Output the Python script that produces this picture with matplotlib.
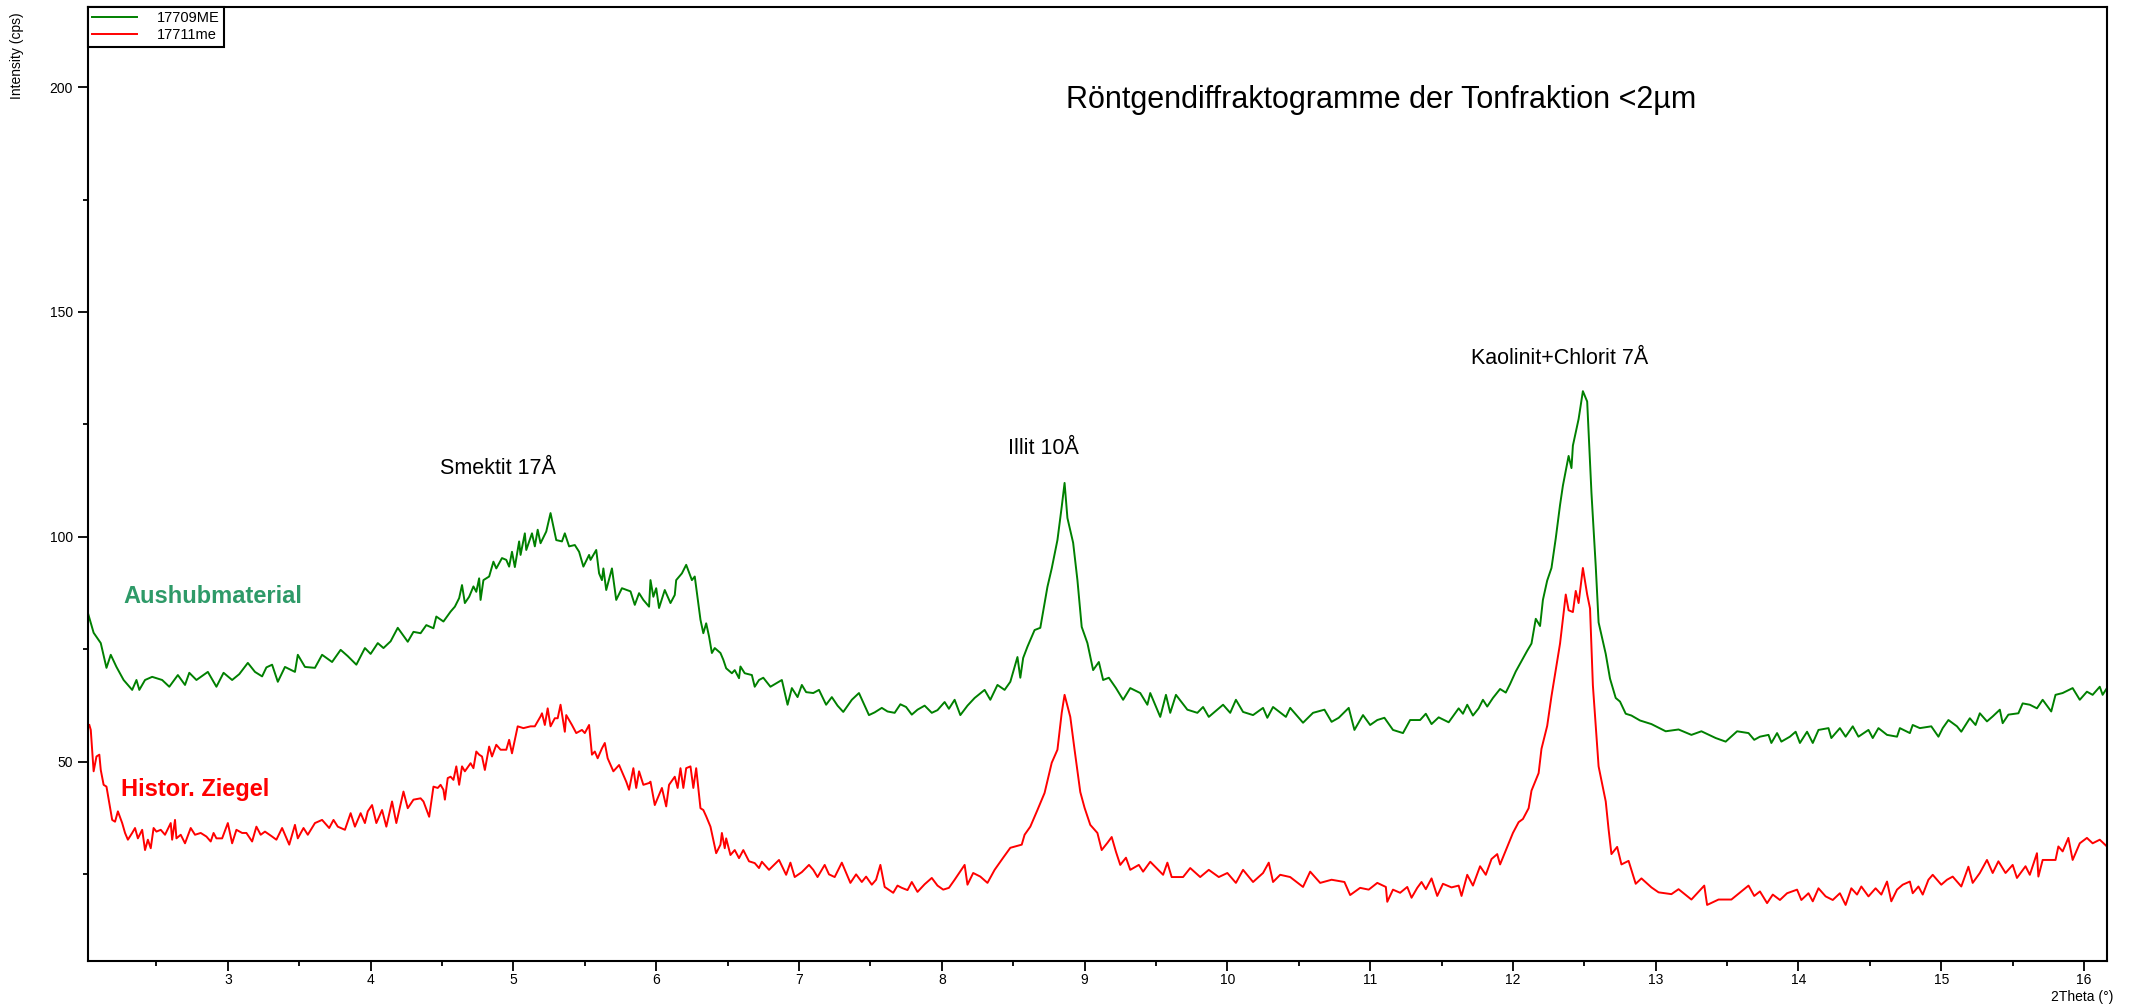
import matplotlib
matplotlib.use("Agg")
import matplotlib.pyplot as plt
from matplotlib.ticker import MultipleLocator

plt.rcParams['font.family'] = ['Liberation Sans', 'DejaVu Sans']

tt_green = [
    2.02, 2.06, 2.11, 2.15, 2.18, 2.22, 2.27, 2.33, 2.36, 2.38, 2.42, 2.47, 2.54, 2.59, 2.65,
    2.70, 2.73, 2.78, 2.86, 2.92, 2.97, 3.03, 3.08, 3.14, 3.19, 3.24, 3.27, 3.31, 3.35, 3.40,
    3.47, 3.49, 3.54, 3.61, 3.66, 3.73, 3.79, 3.84, 3.90, 3.96, 4.00, 4.05, 4.09, 4.14, 4.19,
    4.26, 4.30,
    4.35, 4.39, 4.44, 4.46, 4.51, 4.56, 4.59, 4.62, 4.64, 4.66, 4.69, 4.72, 4.74, 4.76, 4.77,
    4.79, 4.83, 4.86, 4.88, 4.92, 4.95, 4.97, 4.99, 5.01, 5.04, 5.05, 5.08, 5.09, 5.13, 5.15,
    5.17, 5.19, 5.23, 5.26, 5.30, 5.34, 5.36, 5.39, 5.43, 5.46, 5.49, 5.53, 5.54, 5.58, 5.60,
    5.62, 5.63, 5.65, 5.69, 5.72, 5.76, 5.82, 5.85, 5.88, 5.91, 5.95, 5.96, 5.98, 6.00, 6.02,
    6.06, 6.10, 6.13, 6.14, 6.18, 6.21, 6.25, 6.27, 6.31, 6.33, 6.35, 6.37, 6.39, 6.41, 6.45,
    6.47, 6.49, 6.53, 6.55, 6.58, 6.59, 6.62, 6.67, 6.69, 6.72,
    6.75, 6.80, 6.88, 6.92, 6.95, 6.99, 7.02, 7.05, 7.10, 7.14, 7.19, 7.23, 7.27, 7.31, 7.37,
    7.42, 7.46, 7.49, 7.53, 7.58, 7.62, 7.67, 7.71, 7.75, 7.79, 7.83, 7.88, 7.93, 7.97, 8.02,
    8.05, 8.09, 8.13, 8.18, 8.23, 8.30, 8.34, 8.39, 8.44, 8.48, 8.53, 8.55, 8.57, 8.60, 8.65,
    8.69, 8.74, 8.77, 8.81, 8.84, 8.86, 8.88, 8.92, 8.95, 8.98, 9.02,
    9.06, 9.10, 9.13, 9.17, 9.22, 9.27, 9.32, 9.39, 9.44, 9.46, 9.53, 9.57, 9.60, 9.64, 9.72,
    9.79, 9.83, 9.87, 9.97, 10.02, 10.06, 10.11, 10.18, 10.25, 10.28, 10.32, 10.41, 10.44,
    10.53, 10.60, 10.68, 10.73, 10.78, 10.85, 10.89, 10.95, 11.00, 11.05, 11.10, 11.16, 11.23,
    11.28, 11.35,
    11.39, 11.43, 11.48, 11.55, 11.62, 11.65, 11.68, 11.72, 11.76, 11.79, 11.82, 11.86, 11.91,
    11.95, 11.98, 12.02, 12.06, 12.10, 12.13, 12.16, 12.19, 12.21, 12.24, 12.27, 12.30, 12.33,
    12.35, 12.39, 12.41, 12.42, 12.46, 12.49, 12.52, 12.55, 12.58, 12.60, 12.65, 12.68, 12.72,
    12.75, 12.79, 12.83, 12.89, 12.97, 13.07, 13.16, 13.25, 13.32, 13.42, 13.49, 13.57, 13.65,
    13.69,
    13.73, 13.79, 13.81, 13.85, 13.88, 13.94, 13.98, 14.01, 14.06, 14.10, 14.14, 14.21, 14.23,
    14.29, 14.33, 14.38, 14.42, 14.49, 14.52, 14.56, 14.62, 14.69, 14.71, 14.78, 14.80, 14.85,
    14.93, 14.98, 15.01, 15.05, 15.11, 15.14, 15.20, 15.24, 15.27, 15.32, 15.36, 15.41, 15.43,
    15.47, 15.54, 15.57, 15.62, 15.67, 15.71, 15.77, 15.80, 15.85, 15.92, 15.97, 16.02, 16.06,
    16.11, 16.13, 16.16,
]
int_green = [
    83.1, 78.7, 76.4, 70.9, 73.8, 71.1, 68.2, 66.0, 68.2, 66.0, 68.2, 68.9, 68.2, 66.7, 69.3,
    67.1, 69.8, 68.2, 70.0, 66.7, 69.8, 68.2, 69.5, 72.0, 70.0, 69.0, 71.0, 71.6, 67.8, 71.1,
    70.0, 73.8, 71.1, 70.9, 73.8, 72.2, 74.9, 73.5, 71.6, 75.3, 74.0, 76.4, 75.3, 76.8, 79.8,
    76.7, 78.9,
    78.6, 80.4, 79.7, 82.3, 81.2, 83.4, 84.5, 86.4, 89.3, 85.3, 86.7, 89.0, 87.8, 90.8, 86.0,
    90.4, 91.2, 94.5, 93.0, 95.3, 94.9, 93.4, 96.7, 93.3, 99.0, 96.0, 100.8, 97.1, 100.8, 97.9,
    101.6, 98.6, 101.2, 105.3, 99.3, 99.0, 100.8, 97.9, 98.2, 96.7, 93.4, 96.0, 94.9, 97.1, 91.9,
    90.4, 93.0, 88.2, 93.0, 86.0, 88.6, 87.9, 84.9, 87.5, 86.0, 84.5, 90.4, 86.7, 88.6, 84.2,
    88.2, 85.3, 87.1, 90.4, 91.9, 93.8, 90.4, 91.2, 81.6, 78.6, 80.8, 77.9, 74.2, 75.3, 74.2,
    72.7, 70.8, 69.7, 70.4, 68.6, 71.2, 69.7, 69.3, 66.7, 68.2,
    68.7, 66.7, 68.2, 62.7, 66.4, 64.4, 67.1, 65.5, 65.3, 66.0, 62.7, 64.4, 62.5, 61.1, 63.8,
    65.3, 62.5, 60.4, 61.0, 62.0, 61.2, 60.9, 62.8, 62.2, 60.5, 61.6, 62.5, 60.9, 61.5, 63.3,
    61.8, 63.8, 60.4, 62.5, 64.2, 66.0, 63.8, 67.1, 66.0, 67.8, 73.3, 68.7, 73.1, 75.6, 79.3,
    79.8, 88.9, 93.0, 99.3, 106.7, 112.0, 104.2, 98.7, 90.4, 80.0, 76.4,
    70.4, 72.2, 68.2, 68.7, 66.4, 63.8, 66.4, 65.3, 62.7, 65.3, 60.0, 64.9, 60.9, 64.9, 61.6,
    60.9, 62.2, 60.0, 62.7, 60.9, 63.8, 61.1, 60.4, 62.0, 59.8, 62.2, 60.0, 62.0,
    58.7, 60.9, 61.6, 58.9, 59.8, 62.0, 57.1, 60.4, 58.2, 59.3, 59.8, 57.1, 56.4,
    59.3, 59.3,
    60.7, 58.4, 59.9, 58.8, 61.9, 60.7, 62.7, 60.3, 61.9, 63.8, 62.3, 64.2, 66.2,
    65.4, 67.3, 70.1, 72.4, 74.7, 76.3, 81.8, 80.2, 86.0, 90.3, 93.1, 99.7, 107.1,
    111.4, 118.0, 115.3, 120.3, 126.2, 132.4, 130.1, 109.8, 93.5, 81.0, 74.0, 68.5, 64.2,
    63.4, 60.7, 60.3, 59.2, 58.4, 56.8, 57.2, 56.0, 56.8, 55.3, 54.5, 56.8, 56.4,
    54.9,
    55.6, 56.0, 54.2, 56.4, 54.5, 55.6, 56.7, 54.2, 56.7, 54.2, 57.1, 57.5, 55.3,
    57.5, 55.6, 57.9, 55.6, 57.1, 55.3, 57.5, 56.0, 55.6, 57.5, 56.4, 58.2, 57.5,
    57.9, 55.6, 57.5, 59.3, 57.9, 56.7, 59.7, 58.2, 60.8, 59.0, 60.1, 61.6, 58.6,
    60.5, 60.8, 63.0, 62.7, 61.9, 63.8, 61.2, 64.9, 65.3, 66.4, 63.8, 65.6, 64.9,
    66.7, 64.9, 66.4,
]

tt_red = [
    2.03, 2.04, 2.06, 2.08, 2.10, 2.11, 2.13, 2.15, 2.17, 2.19, 2.21, 2.23, 2.26, 2.28, 2.30,
    2.33, 2.35, 2.37, 2.40, 2.42, 2.44, 2.46, 2.48, 2.50, 2.53, 2.56, 2.60, 2.61, 2.63, 2.64,
    2.67, 2.70, 2.74, 2.77, 2.81, 2.85, 2.88, 2.90, 2.92, 2.96, 3.00, 3.03, 3.06, 3.10, 3.13,
    3.17, 3.20, 3.23, 3.26, 3.31, 3.34, 3.38, 3.43, 3.47, 3.49, 3.53, 3.56, 3.61, 3.66, 3.71,
    3.74, 3.77, 3.82, 3.86, 3.89, 3.93, 3.96, 3.98, 4.01, 4.04, 4.08, 4.11, 4.15, 4.18, 4.23,
    4.26, 4.30,
    4.35, 4.37, 4.41, 4.44, 4.47, 4.49, 4.51, 4.52, 4.54, 4.56, 4.58, 4.60, 4.62, 4.64, 4.66,
    4.70, 4.72, 4.74, 4.76, 4.78, 4.80, 4.83, 4.85, 4.88, 4.91, 4.95, 4.97, 4.99, 5.01, 5.03,
    5.07, 5.12, 5.15, 5.19, 5.20, 5.22, 5.24, 5.26, 5.29, 5.31, 5.33, 5.36, 5.37, 5.41, 5.44,
    5.48, 5.50, 5.53, 5.55, 5.57, 5.59, 5.62, 5.64, 5.66, 5.70, 5.74, 5.77, 5.79, 5.81, 5.84,
    5.86, 5.88, 5.91, 5.95, 5.96, 5.99, 6.04, 6.07, 6.09, 6.13, 6.15, 6.17, 6.19, 6.21, 6.24,
    6.26, 6.28, 6.31, 6.33, 6.35, 6.38, 6.42, 6.45, 6.46, 6.48, 6.49, 6.52, 6.55, 6.58, 6.61,
    6.65, 6.69, 6.72,
    6.74, 6.79, 6.86, 6.91, 6.94, 6.97, 7.02, 7.07, 7.10, 7.13, 7.18, 7.21, 7.25, 7.30, 7.36,
    7.40, 7.44, 7.47, 7.51, 7.54, 7.57, 7.60, 7.66, 7.69, 7.72, 7.76, 7.79, 7.83, 7.88, 7.93,
    7.97, 8.01, 8.05, 8.09, 8.16, 8.18, 8.22, 8.27, 8.32, 8.37, 8.43, 8.48, 8.56, 8.58, 8.62,
    8.67, 8.72, 8.77, 8.81, 8.84, 8.86, 8.90, 8.93, 8.97, 9.00, 9.04,
    9.09, 9.12, 9.16, 9.19, 9.22, 9.25, 9.29, 9.32, 9.38, 9.41, 9.46, 9.55, 9.58, 9.61, 9.69,
    9.74, 9.81, 9.87, 9.94, 10.00, 10.06, 10.11, 10.18, 10.25, 10.29, 10.32, 10.37, 10.44,
    10.53, 10.58, 10.65, 10.73, 10.82, 10.86, 10.93, 10.99, 11.05, 11.11, 11.12, 11.16, 11.21,
    11.26, 11.29, 11.33, 11.36,
    11.39, 11.43, 11.47, 11.51, 11.57, 11.62, 11.64, 11.68, 11.72, 11.77, 11.81, 11.85, 11.89,
    11.91, 11.96, 12.00, 12.04, 12.07, 12.11, 12.13, 12.18, 12.20, 12.24, 12.27, 12.31, 12.33,
    12.37, 12.39, 12.42, 12.44, 12.46, 12.49, 12.52, 12.54, 12.56, 12.60, 12.65, 12.67, 12.69,
    12.73, 12.76, 12.81, 12.86, 12.90, 12.97, 13.02, 13.11, 13.16, 13.25, 13.34, 13.36, 13.44,
    13.53, 13.65, 13.69,
    13.73, 13.78, 13.82, 13.87, 13.92, 13.99, 14.02, 14.07, 14.10, 14.14, 14.19, 14.24, 14.29,
    14.33, 14.37, 14.41, 14.44, 14.49, 14.54, 14.58, 14.62, 14.65, 14.69, 14.73, 14.78, 14.80,
    14.84, 14.87, 14.91, 14.94, 15.00, 15.04, 15.08, 15.14, 15.19, 15.22, 15.27, 15.32, 15.36,
    15.40, 15.45, 15.50, 15.53, 15.59, 15.62, 15.67, 15.68, 15.71, 15.80, 15.82, 15.85, 15.89,
    15.92, 15.97, 16.02, 16.06, 16.11, 16.16,
]
int_red = [
    58.2, 57.1, 47.9, 51.2, 51.6, 48.2, 44.9, 44.5, 40.8, 37.1, 36.7, 39.0, 36.4, 34.2, 32.7,
    34.2, 35.3, 33.0, 34.9, 30.4, 32.7, 30.8, 35.3, 34.5, 34.9, 33.8, 36.4, 32.7, 37.1, 33.0,
    33.8, 31.9, 35.3, 33.8, 34.2, 33.4, 32.3, 34.2, 33.0, 33.0, 36.4, 31.9, 34.9, 34.2, 34.2,
    32.3, 35.6, 33.8, 34.5, 33.4, 32.7, 35.3, 31.6, 36.0, 33.0, 35.3, 33.8, 36.4, 37.1, 35.3,
    37.1, 35.6, 34.9, 38.6, 35.6, 38.6, 36.4, 39.0, 40.4, 36.4, 39.3, 35.6, 41.2, 36.4, 43.4,
    39.7, 41.6,
    41.9, 41.2, 37.8, 44.5, 44.2, 44.9, 43.8, 41.6, 46.4, 46.7, 46.0, 49.0, 44.9, 49.0, 47.9,
    49.7, 48.6, 52.3, 51.6, 51.2, 48.2, 53.4, 51.2, 53.8, 52.7, 52.7, 54.9, 51.9, 54.9, 57.9,
    57.5, 57.9, 57.9, 60.1, 60.8, 58.2, 61.9, 57.9, 59.7, 59.7, 62.7, 56.7, 60.4, 58.2, 56.4,
    57.1, 56.4, 58.2, 51.6, 52.3, 50.8, 53.0, 54.2, 50.8, 47.9, 49.3, 47.1, 45.6, 43.8, 48.6,
    44.2, 47.9, 44.9, 45.3, 45.6, 40.4, 44.2, 40.1, 44.9, 46.7, 44.2, 48.6, 44.2, 48.6, 49.0,
    44.2, 48.6, 39.7, 39.3, 37.9, 35.6, 29.7, 31.6, 34.2, 30.8, 33.0, 29.3, 30.4, 28.6, 30.4,
    27.9, 27.5, 26.4,
    27.8, 26.0, 28.2, 24.9, 27.6, 24.4, 25.5, 27.1, 26.0, 24.4, 27.1, 25.0, 24.4, 27.6, 23.1,
    25.0, 23.3, 24.5, 22.7, 23.8, 27.1, 22.2, 20.9, 22.5, 22.0, 21.5, 23.3, 21.1, 22.8, 24.2,
    22.5, 21.6, 22.0, 23.8, 27.1, 22.7, 25.3, 24.5, 23.1, 26.0, 28.7, 30.9, 31.6, 33.8, 35.6,
    39.3, 43.1, 49.8, 52.7, 60.9, 64.9, 60.0, 52.7, 43.3, 39.8, 36.0,
    34.2, 30.4, 32.0, 33.3, 30.0, 27.1, 28.7, 26.0, 27.1, 25.6, 27.8, 24.9, 27.6, 24.4, 24.4,
    26.4, 24.4, 26.0, 24.4, 25.3, 23.1, 26.0, 23.3, 25.3, 27.6, 23.3, 24.9, 24.4,
    22.2, 25.6, 23.1, 23.8, 23.3, 20.4, 22.0, 21.6, 23.1, 22.2, 18.9, 21.6, 20.9,
    22.2, 19.8, 22.0, 23.3,
    21.7, 24.1, 20.2, 22.9, 22.1, 22.5, 20.2, 24.9, 22.5, 26.8, 24.9, 28.4, 29.5,
    27.2, 31.1, 34.2, 36.6, 37.3, 39.7, 43.6, 47.5, 52.9, 58.0, 64.6, 72.4, 76.3,
    87.2, 83.7, 83.3, 88.0, 85.3, 93.1, 87.2, 84.1, 67.0, 49.0, 41.2, 35.0, 29.5,
    31.1, 27.2, 28.0, 22.9, 24.1, 22.1, 21.0, 20.6, 21.7, 19.4, 22.5, 18.2, 19.4,
    19.4, 22.5, 20.2,
    21.2, 18.6, 20.5, 19.3, 20.8, 21.6, 19.3, 20.8, 19.0, 21.9, 20.1, 19.3, 20.8,
    18.2, 21.9, 20.5, 22.3, 20.1, 21.9, 20.5, 23.4, 19.0, 21.6, 22.7, 23.4, 20.8,
    22.3, 20.5, 23.8, 24.9, 22.7, 23.8, 24.5, 22.3, 26.7, 23.1, 25.3, 28.2, 25.3,
    27.9, 25.3, 27.1, 24.2, 26.8, 24.9, 29.7, 24.5, 28.2, 28.2, 31.2, 30.1, 33.1,
    28.2, 31.9, 33.1, 31.9, 32.7, 31.2,
]

series_labels = ['17709ME', '17711me']
sample_names = ['Aushubmaterial', 'Histor. Ziegel']
peak_names = ['Smektit 17Å', 'Illit 10Å', 'Kaolinit+Chlorit 7Å']
title = 'Röntgendiffraktogramme der Tonfraktion <2µm'

fig = plt.figure(figsize=(21.39, 10.08), dpi=100)
ax = fig.add_axes([0.0411, 0.0469, 0.9439, 0.9462])

ax.plot(tt_green, int_green, color='#008000', lw=1.4, label=series_labels[0])
ax.plot(tt_red, int_red, color='#ff0000', lw=1.4, label=series_labels[1])

ax.set_xlim(2.02, 16.16)
ax.set_ylim(5.8, 217.8)
ax.xaxis.set_major_locator(MultipleLocator(1))
ax.xaxis.set_minor_locator(MultipleLocator(0.5))
ax.yaxis.set_major_locator(MultipleLocator(50))
ax.yaxis.set_minor_locator(MultipleLocator(25))
ax.tick_params(which='major', length=7, width=1.3, labelsize=10, direction='out')
ax.tick_params(which='minor', length=3.6, width=1.3, direction='out')
ax.tick_params(axis='x', pad=2)
ax.tick_params(axis='y', pad=4)
for sp in ax.spines.values():
    sp.set_linewidth(1.5)

leg = ax.legend(loc='upper left', borderaxespad=0, fancybox=False, edgecolor='black',
                framealpha=1, fontsize=10.5, handlelength=3.1, handletextpad=1.3,
                borderpad=0.3, labelspacing=0.2)
leg.get_frame().set_linewidth(1.5)

# Beschriftungen
ax.text(11.08, 197.1, title, fontsize=22, ha='center', va='center')
ax.text(4.89, 115.1, peak_names[0], fontsize=15.5, ha='center', va='center')
ax.text(8.71, 119.6, peak_names[1], fontsize=15.5, ha='center', va='center')
ax.text(12.33, 139.6, peak_names[2], fontsize=15.5, ha='center', va='center')
ax.text(2.27, 86.7, sample_names[0], color='#2e9a68', fontsize=17, fontweight='bold',
        ha='left', va='center')
ax.text(2.25, 43.8, sample_names[1], color='#ff0000', fontsize=17, fontweight='bold',
        ha='left', va='center')

fig.text(0.988, 0.011, '2Theta (°)', fontsize=10, ha='right', va='center')
fig.text(0.008, 0.988, 'Intensity (cps)', fontsize=10, rotation=90, ha='center', va='top')

fig.savefig('out.png', dpi=100)
